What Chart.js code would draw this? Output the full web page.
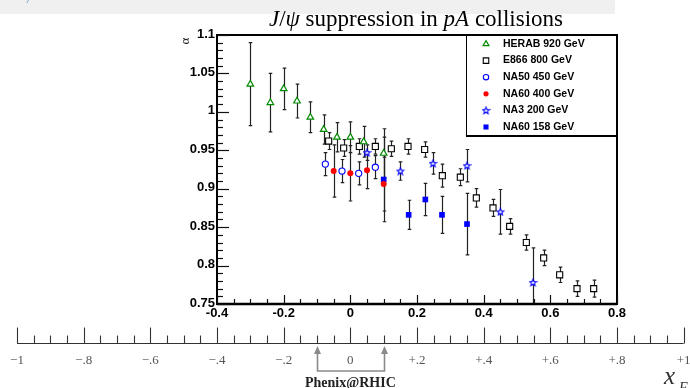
<!DOCTYPE html>
<html>
<head>
<meta charset="utf-8">
<script src="https://cdn.jsdelivr.net/npm/chart.js@4"></script>
<style>
  html, body { margin: 0; padding: 0; background: #fff; }
  canvas { display: block; }
</style>
</head>
<body>
<canvas id="chart" width="690" height="388"></canvas>
<script>
// alpha vs xF for J/psi production in pA
const herabX = [-0.30, -0.24, -0.20, -0.16, -0.12, -0.08, -0.04, 0.00, 0.04, 0.10];
const herabY = [1.036, 1.012, 1.030, 1.014, 0.993, 0.977, 0.967, 0.967, 0.961, 0.946];
const herabErr = [0.054, 0.038, 0.027, 0.022, 0.020, 0.019, 0.019, 0.020, 0.020, 0.032];

const e866X = [-0.065, -0.02, 0.027, 0.075, 0.123, 0.173, 0.223, 0.276, 0.33, 0.378, 0.428, 0.478, 0.528, 0.58, 0.628, 0.68, 0.73];
const e866Y = [0.962, 0.953, 0.955, 0.955, 0.952, 0.955, 0.951, 0.917, 0.915, 0.888, 0.875, 0.851, 0.830, 0.810, 0.788, 0.770, 0.770];
const e866Err = [0.011, 0.011, 0.010, 0.010, 0.010, 0.010, 0.010, 0.015, 0.011, 0.012, 0.011, 0.010, 0.010, 0.010, 0.010, 0.010, 0.011];

const na50X = [-0.075, -0.025, 0.025, 0.075];
const na50Y = [0.932, 0.923, 0.920, 0.928];
const na50Err = [0.015, 0.015, 0.015, 0.015];

const na60hX = [-0.05, 0.00, 0.05, 0.10];
const na60hY = [0.923, 0.920, 0.924, 0.906];
const na60hErr = [0.034, 0.036, 0.024, 0.035];

const na3X = [0.05, 0.15, 0.248, 0.35, 0.45, 0.548];
const na3Y = [0.947, 0.923, 0.933, 0.930, 0.870, 0.778];
const na3Err = [0.010, 0.012, 0.014, 0.021, 0.029, 0.045];

const na60lX = [0.10, 0.175, 0.225, 0.275, 0.35];
const na60lY = [0.912, 0.866, 0.886, 0.866, 0.854];
const na60lErr = [0.055, 0.019, 0.021, 0.024, 0.040];

const seriesLabels = ['HERAB 920 GeV', 'E866 800 GeV', 'NA50 450 GeV', 'NA60 400 GeV', 'NA3 200 GeV', 'NA60 158 GeV'];

const yTickValues = [0.75, 0.8, 0.85, 0.9, 0.95, 1, 1.05, 1.1];
const yTickLabels = ['0.75', '0.8', '0.85', '0.9', '0.95', '1', '1.05', '1.1'];
const xTickValues = [-0.4, -0.2, 0, 0.2, 0.4, 0.6, 0.8];
const xTickLabels = ['-0.4', '-0.2', '0', '0.2', '0.4', '0.6', '0.8'];

// lower ruler (full xF range)
const rulerValues = [-1, -0.8, -0.6, -0.4, -0.2, 0, 0.2, 0.4, 0.6, 0.8, 1];
const rulerLabels = ['\u22121', '\u2212.8', '\u2212.6', '\u2212.4', '\u2212.2', '0', '+.2', '+.4', '+.6', '+.8', '+1'];
const phenixRange = [-0.1, 0.1];

const GREEN = '#008a00';
const BLUE = '#0000ff';
const RED = '#ff0000';
const SANS = '"Liberation Sans", Arial, sans-serif';
const SERIF = '"Liberation Serif", "Times New Roman", serif';

function toPoints(xs, ys) {
  return xs.map((x, i) => ({ x: x, y: ys[i] }));
}

function makeStar(color) {
  const c = document.createElement('canvas');
  c.width = 9;
  c.height = 9;
  const g = c.getContext('2d');
  g.beginPath();
  for (let i = 0; i < 10; i++) {
    const r = i % 2 ? 1.5 : 3.6;
    const a = -Math.PI / 2 + i * Math.PI / 5;
    const px = 4.5 + r * Math.cos(a);
    const py = 4.8 + r * Math.sin(a);
    if (i === 0) g.moveTo(px, py); else g.lineTo(px, py);
  }
  g.closePath();
  g.fillStyle = '#fff';
  g.fill();
  g.strokeStyle = color;
  g.lineWidth = 1.1;
  g.stroke();
  return c;
}

const starMarker = makeStar(BLUE);

const datasets = [
  { label: seriesLabels[0], data: toPoints(herabX, herabY), errors: herabErr,
    pointStyle: 'triangle', radius: 3.8, borderColor: GREEN, backgroundColor: '#fff', borderWidth: 1.2 },
  { label: seriesLabels[1], data: toPoints(e866X, e866Y), errors: e866Err,
    pointStyle: 'rect', radius: 4.3, borderColor: '#000', backgroundColor: '#fff', borderWidth: 1.1 },
  { label: seriesLabels[2], data: toPoints(na50X, na50Y), errors: na50Err,
    pointStyle: 'circle', radius: 3.1, borderColor: BLUE, backgroundColor: '#fff', borderWidth: 1.1 },
  { label: seriesLabels[3], data: toPoints(na60hX, na60hY), errors: na60hErr,
    pointStyle: 'circle', radius: 3.0, borderColor: RED, backgroundColor: RED, borderWidth: 0 },
  { label: seriesLabels[4], data: toPoints(na3X, na3Y), errors: na3Err,
    pointStyle: starMarker, radius: 4, borderColor: BLUE, backgroundColor: '#fff', borderWidth: 1.1 },
  { label: seriesLabels[5], data: toPoints(na60lX, na60lY), errors: na60lErr,
    pointStyle: 'rect', radius: 4.0, borderColor: BLUE, backgroundColor: BLUE, borderWidth: 0 }
];

// error bars under the markers
const errorBarPlugin = {
  id: 'errorBars',
  beforeDatasetsDraw(chart) {
    const ctx = chart.ctx;
    const xs = chart.scales.x;
    const ys = chart.scales.y;
    const area = chart.chartArea;
    ctx.save();
    ctx.beginPath();
    ctx.rect(area.left, area.top, area.right - area.left, area.bottom - area.top);
    ctx.clip();
    ctx.strokeStyle = '#222';
    ctx.lineWidth = 1.2;
    chart.data.datasets.forEach(ds => {
      ds.data.forEach((p, j) => {
        const e = ds.errors[j];
        const px = Math.round(xs.getPixelForValue(p.x)) + 0.5;
        const top = ys.getPixelForValue(p.y + e);
        const bot = ys.getPixelForValue(p.y - e);
        ctx.beginPath();
        ctx.moveTo(px, top);
        ctx.lineTo(px, bot);
        ctx.moveTo(px - 1.8, top);
        ctx.lineTo(px + 1.8, top);
        ctx.moveTo(px - 1.8, bot);
        ctx.lineTo(px + 1.8, bot);
        ctx.stroke();
      });
    });
    ctx.restore();
  }
};

// grey strip and title at the top
const headerPlugin = {
  id: 'header',
  beforeDraw(chart) {
    const ctx = chart.ctx;
    ctx.save();
    ctx.fillStyle = '#f0f0f0';
    ctx.fillRect(0, 0, 615, 14);
    ctx.fillStyle = '#5b7cb4';
    ctx.font = 'italic 11px ' + SERIF;
    ctx.fillText('/', 27, 3);

    const parts = [
      ['J', 'italic'], ['/', 'normal'], ['\u03c8', 'italic'],
      [' suppression in ', 'normal'], ['pA', 'italic'], [' collisions', 'normal']
    ];
    const size = 23;
    let total = 0;
    parts.forEach(p => {
      ctx.font = p[1] + ' ' + size + 'px ' + SERIF;
      total += ctx.measureText(p[0]).width;
    });
    let x = 416 - total / 2;
    ctx.fillStyle = '#000';
    ctx.textBaseline = 'alphabetic';
    parts.forEach(p => {
      ctx.font = p[1] + ' ' + size + 'px ' + SERIF;
      ctx.fillText(p[0], x, 26);
      x += ctx.measureText(p[0]).width;
    });
    ctx.restore();
  }
};

// frame, inward ticks, tick labels, legend, lower ruler
const axesPlugin = {
  id: 'axes',
  afterDatasetsDraw(chart) {
    const ctx = chart.ctx;
    const xs = chart.scales.x;
    const ys = chart.scales.y;
    const a = chart.chartArea;
    ctx.save();

    // frame
    ctx.strokeStyle = '#000';
    ctx.lineWidth = 2;
    ctx.strokeRect(a.left, a.top, a.right - a.left, a.bottom - a.top);
    ctx.lineWidth = 2.6;
    ctx.beginPath();
    ctx.moveTo(a.left, a.bottom);
    ctx.lineTo(a.right, a.bottom);
    ctx.stroke();

    // y ticks
    ctx.lineWidth = 1.2;
    ctx.strokeStyle = '#111';
    for (let i = 0; i <= 35; i++) {
      const v = 0.75 + i * 0.01;
      const py = Math.round(ys.getPixelForValue(v)) + 0.5;
      const len = i % 5 === 0 ? 12 : 6;
      ctx.beginPath();
      ctx.moveTo(a.left, py);
      ctx.lineTo(a.left + len, py);
      ctx.stroke();
    }
    // x ticks
    for (let i = 0; i <= 24; i++) {
      const v = -0.4 + i * 0.05;
      const px = Math.round(xs.getPixelForValue(v)) + 0.5;
      const len = i % 4 === 0 ? 9 : 5;
      ctx.beginPath();
      ctx.moveTo(px, a.bottom);
      ctx.lineTo(px, a.bottom - len);
      ctx.stroke();
    }

    // tick labels
    ctx.fillStyle = '#000';
    ctx.font = 'bold 13px ' + SANS;
    ctx.textAlign = 'right';
    ctx.textBaseline = 'middle';
    yTickValues.forEach((v, i) => {
      ctx.fillText(yTickLabels[i], a.left - 2, ys.getPixelForValue(v) - 1);
    });
    ctx.textAlign = 'center';
    ctx.textBaseline = 'top';
    xTickValues.forEach((v, i) => {
      ctx.fillText(xTickLabels[i], xs.getPixelForValue(v), a.bottom + 3);
    });

    // y title
    ctx.save();
    ctx.translate(186, 41);
    ctx.rotate(-Math.PI / 2);
    ctx.font = '13px ' + SERIF;
    ctx.textAlign = 'center';
    ctx.textBaseline = 'middle';
    ctx.fillStyle = '#222';
    ctx.fillText('\u03b1', 0, 0);
    ctx.restore();

    // legend
    const lx = 466, ly = a.top, lw = a.right - 466, lh = 101;
    ctx.fillStyle = '#fff';
    ctx.fillRect(lx, ly, lw, lh);
    ctx.strokeStyle = '#000';
    ctx.lineWidth = 1;
    ctx.strokeRect(lx + 0.5, ly + 0.5, lw - 1, lh - 1);
    ctx.lineWidth = 2;
    ctx.beginPath();
    ctx.moveTo(lx, ly + lh);
    ctx.lineTo(lx + lw, ly + lh);
    ctx.lineTo(lx + lw, ly);
    ctx.stroke();
    ctx.beginPath();
    ctx.moveTo(lx, ly);
    ctx.lineTo(lx + lw, ly);
    ctx.stroke();
    chart.data.datasets.forEach((ds, i) => {
      const cy = 44 + i * 16.6;
      ctx.fillStyle = ds.backgroundColor;
      ctx.strokeStyle = ds.borderColor;
      ctx.lineWidth = ds.borderWidth;
      Chart.helpers.drawPoint(ctx, {
        pointStyle: ds.pointStyle, radius: ds.radius - 0.4,
        rotation: 0, borderWidth: ds.borderWidth
      }, 486, cy);
      ctx.fillStyle = '#000';
      ctx.font = 'bold 10.5px ' + SANS;
      ctx.textAlign = 'left';
      ctx.textBaseline = 'middle';
      ctx.fillText(ds.label, 503, cy);
    });

    // lower ruler, same xF mapping as the plot axis
    const ry = 343.5;
    ctx.strokeStyle = '#333';
    ctx.lineWidth = 1.1;
    ctx.beginPath();
    ctx.moveTo(xs.getPixelForValue(-1), ry);
    ctx.lineTo(xs.getPixelForValue(1), ry);
    ctx.stroke();
    for (let i = 0; i <= 40; i++) {
      const v = -1 + i * 0.05;
      const px = Math.round(xs.getPixelForValue(v)) + 0.5;
      const len = i % 4 === 0 ? 16 : 8;
      ctx.beginPath();
      ctx.moveTo(px, ry);
      ctx.lineTo(px, ry - len);
      ctx.stroke();
    }
    ctx.fillStyle = '#555';
    ctx.font = '13px ' + SERIF;
    ctx.textAlign = 'center';
    ctx.textBaseline = 'alphabetic';
    rulerValues.forEach((v, i) => {
      ctx.fillText(rulerLabels[i], xs.getPixelForValue(v), 364);
    });

    // PHENIX coverage arrows
    const p0 = Math.round(xs.getPixelForValue(phenixRange[0])) + 0.5;
    const p1 = Math.round(xs.getPixelForValue(phenixRange[1])) + 0.5;
    ctx.strokeStyle = '#8a8a8a';
    ctx.fillStyle = '#8a8a8a';
    ctx.lineWidth = 1.6;
    ctx.beginPath();
    ctx.moveTo(p0, 352);
    ctx.lineTo(p0, 371);
    ctx.lineTo(p1, 371);
    ctx.lineTo(p1, 352);
    ctx.stroke();
    [p0, p1].forEach(px => {
      ctx.beginPath();
      ctx.moveTo(px, 346);
      ctx.lineTo(px - 3.5, 354);
      ctx.lineTo(px + 3.5, 354);
      ctx.closePath();
      ctx.fill();
    });
    ctx.fillStyle = '#222';
    ctx.font = 'bold 14px ' + SERIF;
    ctx.textAlign = 'center';
    ctx.fillText('Phenix@RHIC', xs.getPixelForValue(0), 387);

    // xF label
    ctx.fillStyle = '#333';
    ctx.textAlign = 'left';
    ctx.font = 'italic 25px ' + SERIF;
    ctx.fillText('x', 664, 384);
    ctx.font = 'italic 14px ' + SERIF;
    ctx.fillText('F', 679, 392);

    ctx.restore();
  }
};

new Chart(document.getElementById('chart').getContext('2d'), {
  type: 'scatter',
  data: { datasets: datasets },
  options: {
    responsive: false,
    animation: false,
    layout: { padding: { left: 217, top: 35, right: 73, bottom: 84 } },
    plugins: {
      legend: { display: false },
      tooltip: { enabled: false }
    },
    scales: {
      x: { type: 'linear', min: -0.4, max: 0.8, display: false },
      y: { type: 'linear', min: 0.75, max: 1.1, display: false }
    }
  },
  plugins: [headerPlugin, errorBarPlugin, axesPlugin]
});
</script>
</body>
</html>
